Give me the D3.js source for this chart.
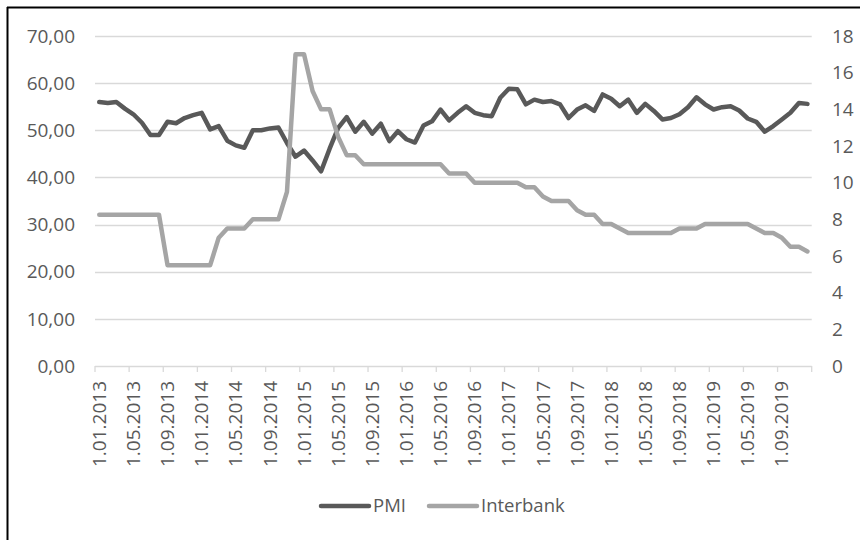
<!DOCTYPE html>
<html>
<head>
<meta charset="utf-8">
<script src="https://cdn.jsdelivr.net/npm/d3@7"></script>
<style>
  html, body { margin: 0; padding: 0; background: #fff; }
  svg { display: block; }
  text { font-family: "Open Sans", "Liberation Sans", sans-serif; fill: #595959; }
</style>
</head>
<body>
<svg id="chart" width="860" height="540"></svg>
<script>
// Monthly observations, January 2013 – December 2019
const firstMonth = new Date(2013, 0, 1);
const lastMonth = new Date(2019, 11, 1);

// Manufacturing PMI (left axis)
const pmi = [
  56.0, 55.8, 56.0, 54.6, 53.4, 51.6, 49.0, 49.0, 51.8, 51.5, 52.6, 53.2,
  53.7, 50.2, 50.9, 47.8, 46.8, 46.3, 50.0, 50.0, 50.4, 50.6, 47.3, 44.4,
  45.7, 43.6, 41.3, 46.1, 50.5, 52.8, 49.7, 51.8, 49.3, 51.4, 47.7, 49.8,
  48.1, 47.4, 51.0, 51.9, 54.4, 52.1, 53.7, 55.1, 53.7, 53.2, 53.0, 56.9,
  58.8, 58.7, 55.5, 56.5, 56.0, 56.2, 55.5, 52.6, 54.4, 55.3, 54.1, 57.6,
  56.7, 55.1, 56.5, 53.7, 55.6, 54.1, 52.3, 52.6, 53.4, 54.9, 57.0, 55.5,
  54.4, 54.9, 55.1, 54.2, 52.5, 51.8, 49.7, 50.9, 52.3, 53.7, 55.8, 55.6
];

// Interbank rate, % (right axis)
const interbank = [
  8.25, 8.25, 8.25, 8.25, 8.25, 8.25, 8.25, 8.25, 5.5, 5.5, 5.5, 5.5,
  5.5, 5.5, 7.0, 7.5, 7.5, 7.5, 8.0, 8.0, 8.0, 8.0, 9.5, 17.0,
  17.0, 15.0, 14.0, 14.0, 12.5, 11.5, 11.5, 11.0, 11.0, 11.0, 11.0, 11.0,
  11.0, 11.0, 11.0, 11.0, 11.0, 10.5, 10.5, 10.5, 10.0, 10.0, 10.0, 10.0,
  10.0, 10.0, 9.75, 9.75, 9.25, 9.0, 9.0, 9.0, 8.5, 8.25, 8.25, 7.75,
  7.75, 7.5, 7.25, 7.25, 7.25, 7.25, 7.25, 7.25, 7.5, 7.5, 7.5, 7.75,
  7.75, 7.75, 7.75, 7.75, 7.75, 7.5, 7.25, 7.25, 7.0, 6.5, 6.5, 6.25
];

// Axis tick labels
const leftTicks = [0, 10, 20, 30, 40, 50, 60, 70];
const rightTicks = [0, 2, 4, 6, 8, 10, 12, 14, 16, 18];
const seriesNames = ["PMI", "Interbank"];
const seriesColors = ["#595959", "#a5a5a5"];

const months = d3.timeMonth.range(firstMonth, d3.timeMonth.offset(lastMonth, 1));
const fmtDate = d3.timeFormat("%-d.%m.%Y");
const labelEvery = 4;

const svg = d3.select("#chart");
const plot = { left: 95, right: 811.7, top: 36, bottom: 366 };

const x = d3.scaleBand()
  .domain(months.map((d, i) => i))
  .range([plot.left, plot.right])
  .paddingInner(0).paddingOuter(0);
const yL = d3.scaleLinear().domain([0, 70]).range([plot.bottom, plot.top]);
const yR = d3.scaleLinear().domain([0, 18]).range([plot.bottom, plot.top]);
const cx = i => x(i) + x.bandwidth() / 2;

// Frame edges
svg.append("line").attr("x1", 7).attr("x2", 860).attr("y1", 7.5).attr("y2", 7.5)
  .attr("stroke", "#000").attr("stroke-width", 2);
svg.append("line").attr("x1", 7.5).attr("x2", 7.5).attr("y1", 7).attr("y2", 540)
  .attr("stroke", "#000").attr("stroke-width", 2);

// Horizontal gridlines from the left axis
svg.append("g").selectAll("line")
  .data(leftTicks.filter(v => v > 0))
  .join("line")
  .attr("x1", plot.left).attr("x2", plot.right)
  .attr("y1", d => Math.round(yL(d)) + 0.5).attr("y2", d => Math.round(yL(d)) + 0.5)
  .attr("stroke", "#d9d9d9").attr("stroke-width", 1.3);

// Left axis labels
const fmtComma = v => d3.format(".2f")(v).replace(".", ",");
svg.append("g").selectAll("text")
  .data(leftTicks)
  .join("text")
  .attr("x", 75).attr("y", d => yL(d))
  .attr("dy", "0.35em")
  .attr("text-anchor", "end")
  .attr("font-size", 19)
  .text(fmtComma);

// Right axis labels
svg.append("g").selectAll("text")
  .data(rightTicks)
  .join("text")
  .attr("x", 832).attr("y", d => yR(d))
  .attr("dy", "0.35em")
  .attr("text-anchor", "start")
  .attr("font-size", 19)
  .text(d => d);

// Category axis: baseline, tick marks at category boundaries, rotated date labels
const xAxis = svg.append("g");
xAxis.append("line")
  .attr("x1", plot.left).attr("x2", plot.right)
  .attr("y1", plot.bottom + 0.5).attr("y2", plot.bottom + 0.5)
  .attr("stroke", "#d9d9d9").attr("stroke-width", 1.3);
const tickIdx = d3.range(0, months.length + 1, labelEvery);
xAxis.selectAll("line.tick")
  .data(tickIdx)
  .join("line")
  .attr("class", "tick")
  .attr("x1", d => d < months.length ? x(d) : plot.right)
  .attr("x2", d => d < months.length ? x(d) : plot.right)
  .attr("y1", plot.bottom).attr("y2", plot.bottom + 6)
  .attr("stroke", "#d9d9d9").attr("stroke-width", 1.3);
xAxis.selectAll("text")
  .data(d3.range(0, months.length, labelEvery))
  .join("text")
  .attr("transform", d => `translate(${cx(d)},${plot.bottom + 15}) rotate(-90)`)
  .attr("dy", "0.35em")
  .attr("text-anchor", "end")
  .attr("font-size", 19)
  .text(d => fmtDate(months[d]));

// Series lines
const lineL = d3.line().x((d, i) => cx(i)).y(d => yL(d));
const lineR = d3.line().x((d, i) => cx(i)).y(d => yR(d));

svg.append("path").datum(pmi)
  .attr("d", lineL)
  .attr("fill", "none").attr("stroke", seriesColors[0])
  .attr("stroke-width", 4.5).attr("stroke-linejoin", "round").attr("stroke-linecap", "round");

svg.append("path").datum(interbank)
  .attr("d", lineR)
  .attr("fill", "none").attr("stroke", seriesColors[1])
  .attr("stroke-width", 4.5).attr("stroke-linejoin", "round").attr("stroke-linecap", "round");

// Legend
const legendItems = [
  { name: seriesNames[0], color: seriesColors[0], x: 321 },
  { name: seriesNames[1], color: seriesColors[1], x: 429 }
];
const lg = svg.append("g").selectAll("g").data(legendItems).join("g")
  .attr("transform", d => `translate(${d.x},506)`);
lg.append("line").attr("x1", 0).attr("x2", 48).attr("y1", 0).attr("y2", 0)
  .attr("stroke", d => d.color).attr("stroke-width", 4.5).attr("stroke-linecap", "round");
lg.append("text").attr("x", 52).attr("y", 0).attr("dy", "0.35em")
  .attr("font-size", 18.5)
  .text(d => d.name);
</script>
</body>
</html>
